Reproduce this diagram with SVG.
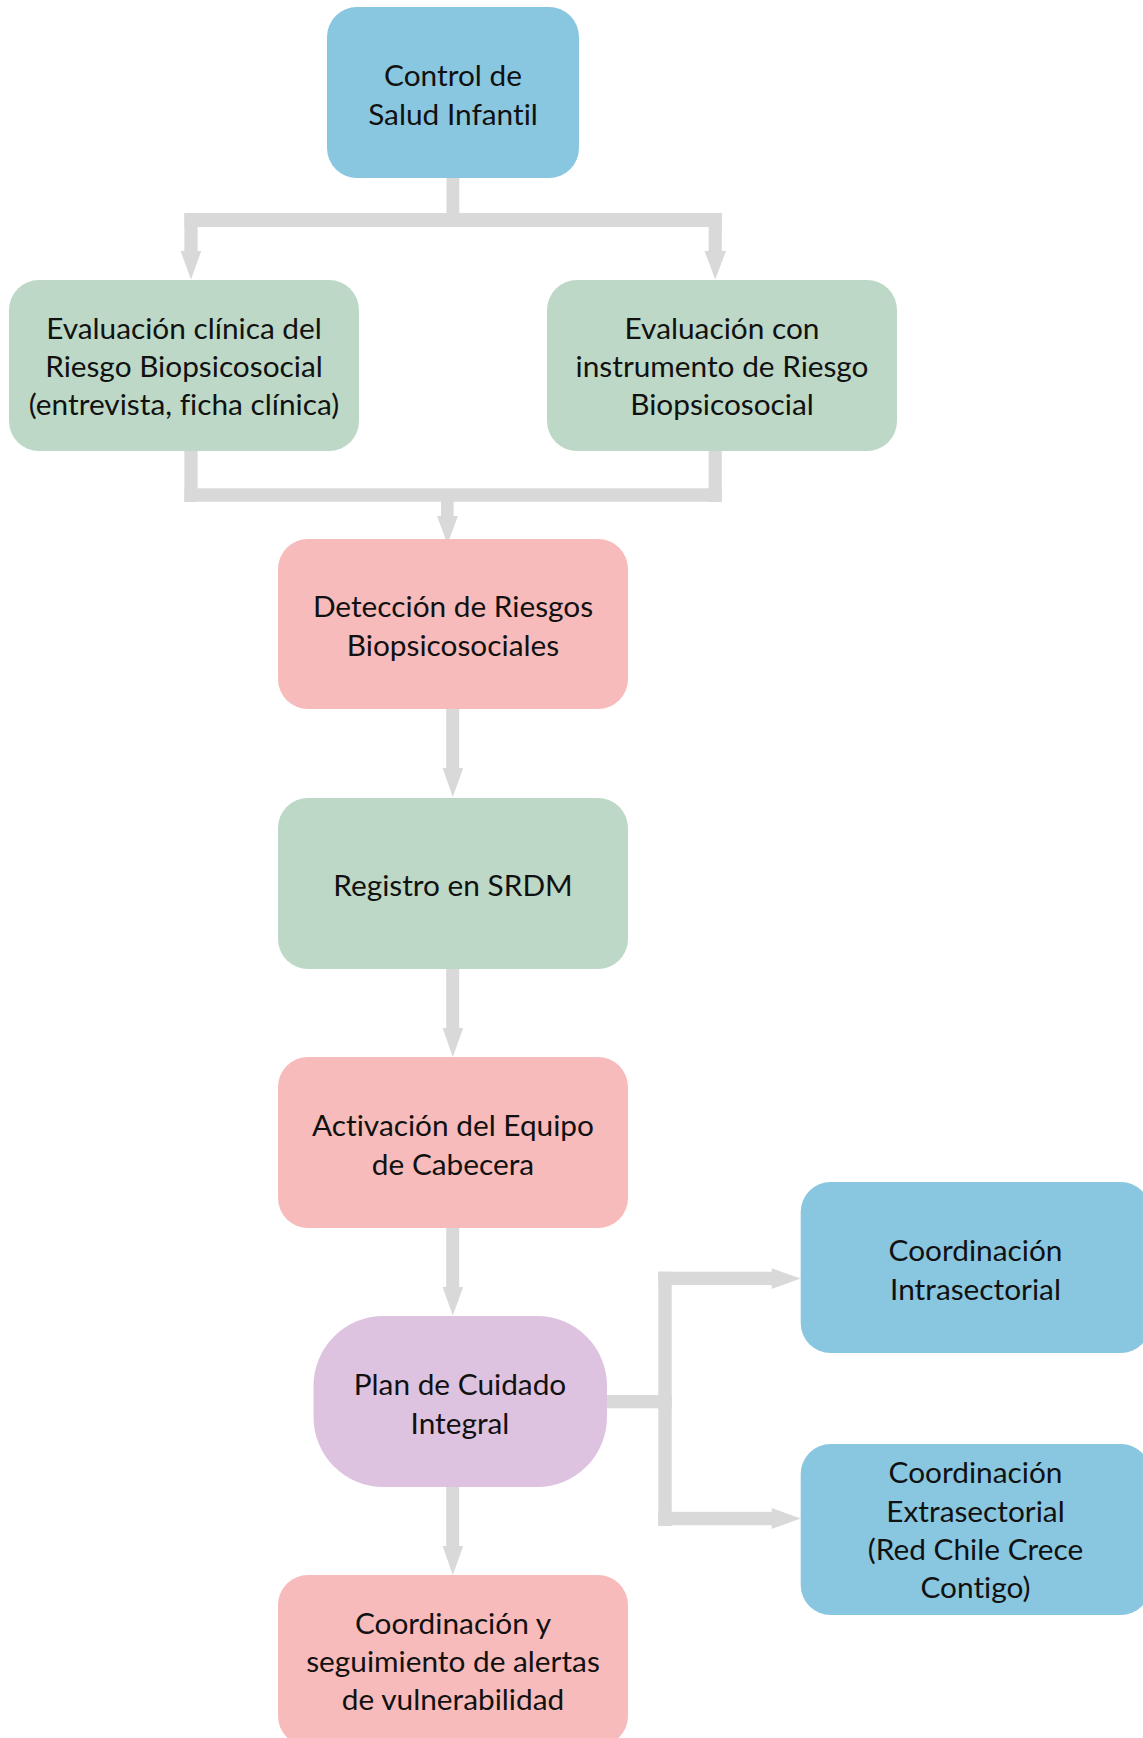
<svg xmlns="http://www.w3.org/2000/svg" width="1143" height="1738" viewBox="0 0 1143 1738">
<style>
.blue{fill:#89C6E0}
.green{fill:#BDD8C6}
.pink{fill:#F6BBBA}
.purple{fill:#DEC3E1}
.c{fill:#D9D9D9}
text{font-family:Lato,"Liberation Sans",sans-serif;font-size:29.8px;fill:#111;text-anchor:middle;font-variant-ligatures:none;font-feature-settings:"liga" 0,"dlig" 0}
</style>
<rect width="1143" height="1738" fill="#FFFFFF"/>
<g id="connectors">
  <rect class="c" x="446.5" y="177" width="12.8" height="50"/>
  <rect class="c" x="184.4" y="213" width="537.4" height="14"/>
  <rect class="c" x="184.4" y="213" width="13.2" height="38"/>
  <polygon class="c" points="180.6,251 201.3,251 191,279.5"/>
  <rect class="c" x="708.6" y="213" width="13.2" height="38"/>
  <polygon class="c" points="704.5,251 726,251 715.2,279.5"/>
  <rect class="c" x="184.4" y="450" width="13.2" height="52"/>
  <rect class="c" x="708.6" y="450" width="13.2" height="52"/>
  <rect class="c" x="184.4" y="488.3" width="537.4" height="13.4"/>
  <rect class="c" x="441" y="501" width="12.6" height="15.5"/>
  <polygon class="c" points="437,516 458,516 447.4,544"/>
  <rect class="c" x="446.2" y="708" width="13" height="60.5"/>
  <polygon class="c" points="442.6,768 463.2,768 452.8,797"/>
  <rect class="c" x="446.2" y="968" width="13" height="60.5"/>
  <polygon class="c" points="442.6,1028 463.2,1028 452.8,1057"/>
  <rect class="c" x="446.2" y="1227" width="13" height="60.5"/>
  <polygon class="c" points="442.6,1287 463.2,1287 452.8,1315.5"/>
  <rect class="c" x="446.2" y="1486" width="13" height="60.5"/>
  <polygon class="c" points="442.6,1546 463.2,1546 452.8,1575"/>
  <rect class="c" x="605" y="1395" width="66.7" height="13.3"/>
  <rect class="c" x="658.3" y="1271.7" width="13.4" height="254.3"/>
  <rect class="c" x="658.3" y="1271.7" width="114" height="13.4"/>
  <polygon class="c" points="771.7,1268.3 771.7,1289 800.5,1278.5"/>
  <rect class="c" x="658.3" y="1511.8" width="114" height="13.4"/>
  <polygon class="c" points="771.7,1508 771.7,1529 800.5,1518.5"/>
</g>
<g id="n-control">
  <rect class="blue" x="327" y="7" width="252" height="171" rx="30"/>
  <text x="453" y="86">Control de</text>
  <text x="453" y="125">Salud Infantil</text>
</g>
<g id="n-eval-clinica">
  <rect class="green" x="9" y="280" width="350" height="171" rx="30"/>
  <text x="184" y="339">Evaluación clínica del</text>
  <text x="184" y="377">Riesgo Biopsicosocial</text>
  <text x="184" y="415">(entrevista, ficha clínica)</text>
</g>
<g id="n-eval-instrumento">
  <rect class="green" x="547" y="280" width="350" height="171" rx="30"/>
  <text x="722" y="339">Evaluación con</text>
  <text x="722" y="377">instrumento de Riesgo</text>
  <text x="722" y="415">Biopsicosocial</text>
</g>
<g id="n-deteccion">
  <rect class="pink" x="278" y="539" width="350" height="170" rx="30"/>
  <text x="453" y="617">Detección de Riesgos</text>
  <text x="453" y="656">Biopsicosociales</text>
</g>
<g id="n-registro">
  <rect class="green" x="278" y="798" width="350" height="171" rx="30"/>
  <text x="453" y="896">Registro en SRDM</text>
</g>
<g id="n-activacion">
  <rect class="pink" x="278" y="1057" width="350" height="171" rx="30"/>
  <text x="453" y="1136">Activación del Equipo</text>
  <text x="453" y="1175">de Cabecera</text>
</g>
<g id="n-plan">
  <rect class="purple" x="313.5" y="1316" width="293.5" height="171" rx="70"/>
  <text x="460" y="1395">Plan de Cuidado</text>
  <text x="460" y="1434">Integral</text>
</g>
<g id="n-seguimiento">
  <rect class="pink" x="278" y="1575" width="350" height="171" rx="30"/>
  <text x="453" y="1634">Coordinación y</text>
  <text x="453" y="1672">seguimiento de alertas</text>
  <text x="453" y="1710">de vulnerabilidad</text>
</g>
<g id="n-intra">
  <rect class="blue" x="800.7" y="1182" width="350" height="171" rx="30"/>
  <text x="975.5" y="1261">Coordinación</text>
  <text x="975.5" y="1300">Intrasectorial</text>
</g>
<g id="n-extra">
  <rect class="blue" x="800.7" y="1444" width="350" height="171" rx="30"/>
  <text x="975.5" y="1483">Coordinación</text>
  <text x="975.5" y="1522">Extrasectorial</text>
  <text x="975.5" y="1560">(Red Chile Crece</text>
  <text x="975.5" y="1598">Contigo)</text>
</g>
</svg>
